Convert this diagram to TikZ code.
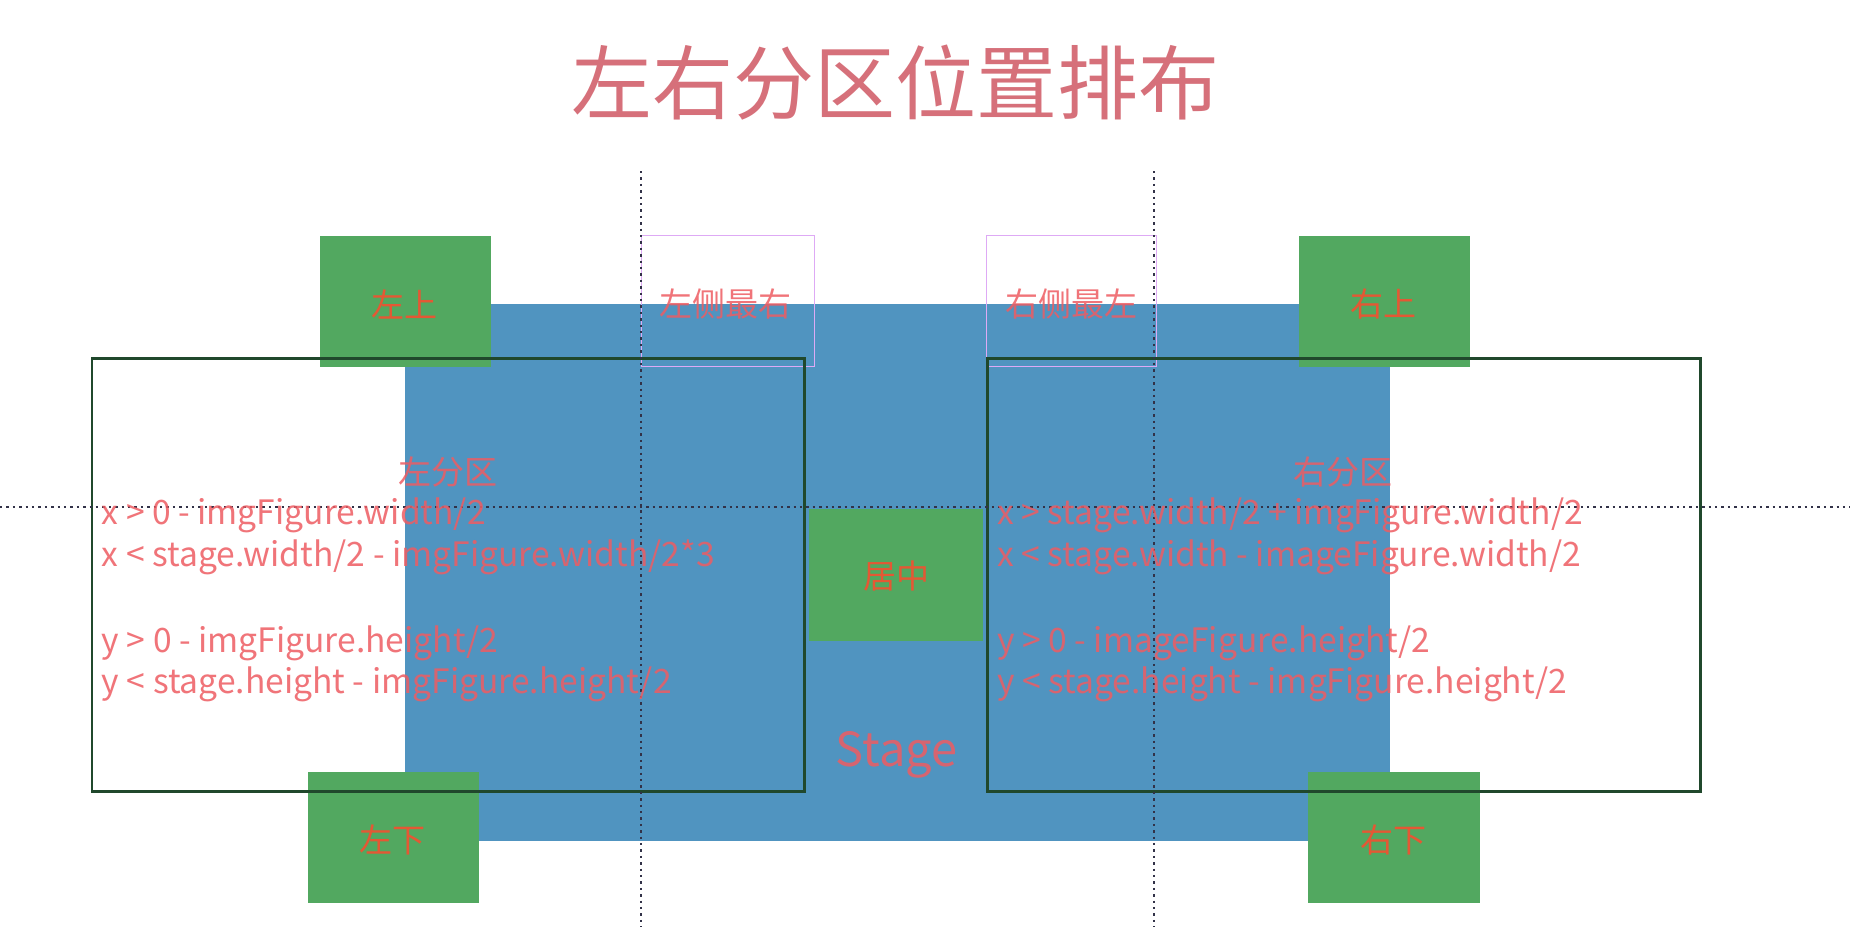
\documentclass[tikz,border=0pt]{standalone}
\usepackage{fontspec}
\setmainfont{Noto Sans CJK SC}
\definecolor{stageblue}{RGB}{80,148,192}
\definecolor{boxgreen}{RGB}{82,168,96}
\definecolor{lbltxt}{RGB}{228,88,52}
\definecolor{formtxt}{RGB}{238,92,98}
\definecolor{titletxt}{RGB}{214,112,122}
\definecolor{partline}{RGB}{32,72,44}
\definecolor{violetline}{RGB}{222,170,245}
\definecolor{guide}{RGB}{50,50,72}
\tikzset{
  stagebox/.style={fill=stageblue},
  greenbox/.style={fill=boxgreen},
  violetbox/.style={draw=violetline, line width=0.5pt},
  partbox/.style={draw=partline, line width=1.4pt},
  guideline/.style={draw=guide, line width=0.9pt, dash pattern=on 1.2pt off 2pt},
  lbl/.style={text=lbltxt, font=\fontsize{16.5}{18}\selectfont, inner sep=0pt},
  plbl/.style={text=formtxt, opacity=0.85, font=\fontsize{16.5}{18}\selectfont, inner sep=0pt},
  form/.style={text=formtxt, opacity=0.85, font=\fontsize{16.8}{18}\selectfont, inner sep=0pt, anchor=west},
}
\begin{document}
\begin{tikzpicture}[x=0.59pt,y=-0.59pt]
\useasboundingbox[fill=white] (0,0) rectangle (1568,786);

% stage
\path[stagebox] (343,258) rectangle (1178,713);

% violet boxes
\path[violetbox] (544,200) rectangle (690,311);
\path[violetbox] (836,200) rectangle (980,311);

% green boxes
\path[greenbox] (271,200) rectangle (416,311);
\path[greenbox] (1101,200) rectangle (1246,311);
\path[greenbox] (261,654) rectangle (406,765);
\path[greenbox] (1109,654) rectangle (1254,765);
\path[greenbox] (686,431) rectangle (833,543);

% partition outlines
\path[partbox] (78,304) rectangle (682,671);
\path[partbox] (837,304) rectangle (1441,671);

% guide lines
\coordinate (vlt) at (543,145);
\coordinate (vlb) at (543,786);
\coordinate (vrt) at (978,145);
\coordinate (vrb) at (978,786);
\coordinate (hl) at (0,430);
\coordinate (hr) at (1568,430);
\draw[guideline] (vlt) -- (vlb);
\draw[guideline] (vrt) -- (vrb);
\draw[guideline] (hl) -- (hr);

% title
\node[text=titletxt, font=\fontsize{40.5}{44}\selectfont, inner sep=0pt] (title) at (759,70) {左右分区位置排布};

% box labels
\node[lbl] (lu) at (343,258) {左上};
\node[lbl] (ru) at (1173,258) {右上};
\node[lbl] (ld) at (333,712) {左下};
\node[lbl] (rd) at (1181,712) {右下};
\node[lbl] (mid) at (760,488) {居中};

\node[plbl] (lr) at (615,258) {左侧最右};
\node[plbl] (rl) at (908,258) {右侧最左};

\node[plbl] (lpart) at (380,400) {左分区};
\node[plbl] (rpart) at (1138,400) {右分区};

% formulas left
\node[form] (l1) at (86,437) {x > 0 - imgFigure.width/2};
\node[form] (l2) at (86,472) {x < stage.width/2 - imgFigure.width/2*3};
\node[form] (l3) at (86,545) {y > 0 - imgFigure.height/2};
\node[form] (l4) at (86,580) {y < stage.height - imgFigure.height/2};

% formulas right
\node[form] (r1) at (845,437) {x > stage.width/2 + imgFigure.width/2};
\node[form] (r2) at (845,472) {x < stage.width - imageFigure.width/2};
\node[form] (r3) at (845,545) {y > 0 - imageFigure.height/2};
\node[form] (r4) at (845,580) {y < stage.height - imgFigure.height/2};

% stage label
\node[text=formtxt, opacity=0.85, font=\fontsize{23.5}{26}\selectfont, inner sep=0pt] (stage) at (760,640) {Stage};
\end{tikzpicture}
\end{document}
